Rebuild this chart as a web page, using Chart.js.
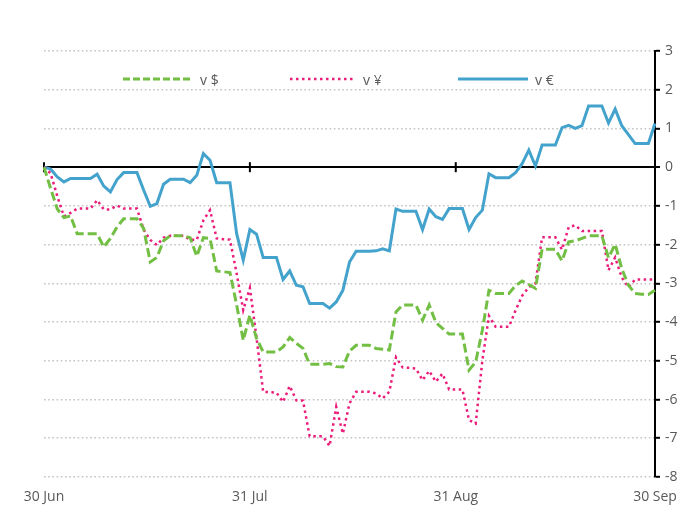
<!DOCTYPE html>
<html>
<head>
<meta charset="utf-8">
<script src="https://cdn.jsdelivr.net/npm/chart.js@4.4.1/dist/chart.umd.min.js"></script>
<style>
  body { margin: 0; background: #fff; }
  #wrap { position: relative; width: 694px; height: 508px; }
  .item { position: absolute; top: 71px; height: 16px; display: flex; align-items: center;
          font: 14px "Open Sans", sans-serif; color: #595959; white-space: nowrap; }
  .item svg { margin-right: 7px; }
</style>
</head>
<body>
<div id="wrap">
  <canvas id="chart" width="694" height="508"></canvas>
  <div class="item" style="left:123px">
    <svg width="70" height="6"><line x1="0" y1="3" x2="70" y2="3" stroke="#72BF44" stroke-width="3" stroke-dasharray="7 3"/></svg>v $
  </div>
  <div class="item" style="left:290px">
    <svg width="66" height="6"><line x1="0" y1="3" x2="66" y2="3" stroke="#EC1C7A" stroke-width="2.5" stroke-dasharray="2.5 3.5"/></svg>v ¥
  </div>
  <div class="item" style="left:458px">
    <svg width="70" height="6"><line x1="0" y1="3" x2="70" y2="3" stroke="#44A3CC" stroke-width="3"/></svg>v €
  </div>
</div>
<script>
// daily points, 30 Jun (day 0) to 30 Sep (day 92)
const tickDays = [0, 31, 62, 92];
const tickLabels = ['30 Jun', '31 Jul', '31 Aug', '30 Sep'];
const days = [];
for (let i = 0; i <= 92; i++) days.push(i);

const vsDollar = [
  0, -0.55, -1.08, -1.30, -1.26, -1.72, -1.72, -1.72, -1.72, -2.06,
  -1.84, -1.54, -1.33, -1.33, -1.33, -1.58, -2.45, -2.33, -1.90, -1.77,
  -1.77, -1.77, -1.82, -2.30, -1.82, -1.84, -2.68, -2.70, -2.72, -3.55,
  -4.47, -3.82, -4.42, -4.77, -4.77, -4.77, -4.64, -4.40, -4.55, -4.68,
  -5.09, -5.09, -5.09, -5.07, -5.15, -5.16, -4.75, -4.60, -4.60, -4.60,
  -4.68, -4.70, -4.72, -3.74, -3.56, -3.56, -3.56, -3.95, -3.56, -4.01,
  -4.16, -4.31, -4.31, -4.31, -5.24, -5.03, -4.21, -3.18, -3.26, -3.26,
  -3.26, -3.06, -2.94, -3.03, -3.13, -2.12, -2.12, -2.12, -2.42, -1.93,
  -1.90, -1.84, -1.77, -1.77, -1.77, -2.34, -1.99, -2.62, -3.05, -3.26,
  -3.28, -3.29, -3.18
];
const vsYen = [
  0, -0.16, -0.75, -1.27, -1.18, -1.07, -1.07, -1.07, -0.85, -1.09,
  -1.09, -0.99, -1.07, -1.07, -1.07, -1.61, -1.88, -2.01, -1.82, -1.77,
  -1.77, -1.77, -1.87, -1.88, -1.37, -1.11, -1.84, -1.86, -1.87, -2.74,
  -3.69, -3.12, -4.40, -5.80, -5.81, -5.82, -6.06, -5.65, -6.02, -6.03,
  -6.95, -6.95, -6.95, -7.20, -6.19, -6.88, -6.10, -5.80, -5.80, -5.80,
  -5.84, -5.97, -5.80, -4.91, -5.17, -5.18, -5.20, -5.50, -5.26, -5.54,
  -5.33, -5.74, -5.74, -5.74, -6.53, -6.62, -5.00, -3.84, -4.12, -4.12,
  -4.12, -3.70, -3.32, -3.10, -3.00, -1.81, -1.81, -1.81, -2.13, -1.55,
  -1.50, -1.65, -1.65, -1.65, -1.65, -2.66, -2.33, -2.85, -3.10, -2.90,
  -2.90, -2.90, -2.90
];
const vsEuro = [
  0, -0.05, -0.25, -0.38, -0.29, -0.29, -0.29, -0.29, -0.18, -0.49,
  -0.64, -0.32, -0.14, -0.14, -0.14, -0.59, -1.01, -0.94, -0.44, -0.31,
  -0.31, -0.31, -0.40, -0.21, 0.35, 0.18, -0.40, -0.40, -0.40, -1.71,
  -2.40, -1.61, -1.73, -2.33, -2.33, -2.33, -2.90, -2.68, -3.05, -3.09,
  -3.52, -3.52, -3.52, -3.64, -3.48, -3.18, -2.45, -2.17, -2.17, -2.17,
  -2.16, -2.11, -2.16, -1.08, -1.14, -1.14, -1.14, -1.61, -1.08, -1.28,
  -1.35, -1.07, -1.07, -1.07, -1.61, -1.30, -1.11, -0.17, -0.27, -0.27,
  -0.27, -0.14, 0.09, 0.44, 0.03, 0.57, 0.57, 0.57, 1.02, 1.08,
  1.00, 1.07, 1.58, 1.58, 1.58, 1.14, 1.50, 1.07, 0.84, 0.61,
  0.61, 0.61, 1.13
];

const textColor = '#595959';
const font = { family: '"Open Sans", sans-serif', size: 14 };

// small crossing ticks on the zero line
const zeroTicks = {
  id: 'zeroTicks',
  beforeDatasetsDraw(chart) {
    const { ctx, scales: { x, y } } = chart;
    const y0 = y.getPixelForValue(0);
    ctx.save();
    ctx.strokeStyle = '#000';
    ctx.lineWidth = 2;
    tickDays.forEach(d => {
      const px = x.getPixelForValue(d);
      ctx.beginPath();
      ctx.moveTo(px, y0 - 5);
      ctx.lineTo(px, y0 + 5);
      ctx.stroke();
    });
    ctx.restore();
  }
};

const isZero = c => c.tick && c.tick.value === 0;

new Chart(document.getElementById('chart'), {
  type: 'line',
  data: {
    labels: days,
    datasets: [
      { label: 'v $', data: vsDollar, borderColor: '#72BF44', borderWidth: 3, borderDash: [9, 4] },
      { label: 'v ¥', data: vsYen, borderColor: '#EC1C7A', borderWidth: 2.5, borderDash: [2.5, 3.5] },
      { label: 'v €', data: vsEuro, borderColor: '#44A3CC', borderWidth: 3 }
    ]
  },
  options: {
    responsive: false,
    animation: false,
    layout: { padding: { left: 44, top: 51, right: 0, bottom: 0 } },
    elements: { point: { radius: 0 }, line: { tension: 0 } },
    plugins: { legend: { display: false }, tooltip: { enabled: false } },
    scales: {
      x: {
        type: 'category',
        grid: { display: false, drawTicks: false },
        border: { display: false },
        ticks: {
          autoSkip: false, minRotation: 0, maxRotation: 0, padding: 12,
          color: textColor, font: font,
          callback: (val, i) => {
            const k = tickDays.indexOf(i);
            return k >= 0 ? tickLabels[k] : '';
          }
        },
        afterFit: s => { s.height = 31; }
      },
      y: {
        position: 'right',
        min: -8, max: 3,
        ticks: { stepSize: 1, padding: 5, color: textColor, font: font },
        grid: {
          color: c => isZero(c) ? '#000' : '#c4c4c4',
          lineWidth: c => isZero(c) ? 2 : 1.6,
          tickColor: '#000', tickWidth: 2, tickLength: 5
        },
        border: { color: '#000', width: 2, dash: c => isZero(c) ? [] : [1.6, 2.6] },
        afterFit: s => { s.width = 39; }
      }
    }
  },
  plugins: [zeroTicks]
});
</script>
</body>
</html>
